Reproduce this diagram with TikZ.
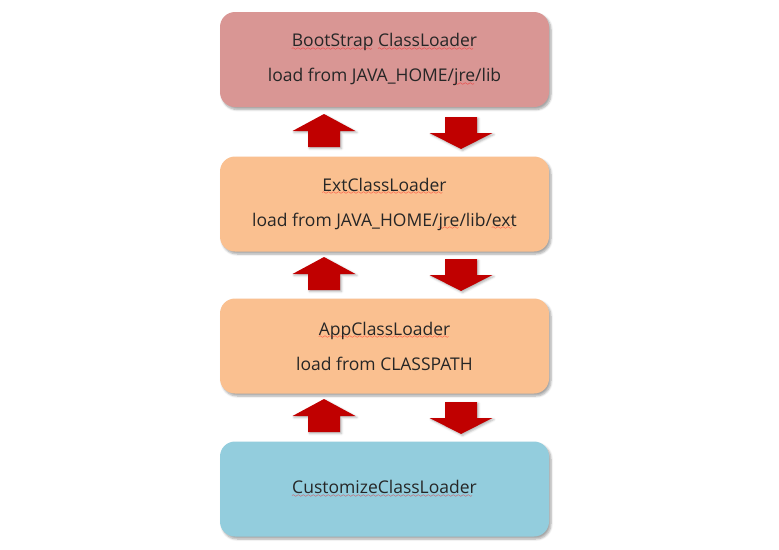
\documentclass[tikz,border=0pt]{standalone}
\usepackage{xcolor}
\usepackage{fontspec}
\setmainfont{Open Sans}
\usepackage{tikz}
\usetikzlibrary{shadows.blur}

\definecolor{bootred}{HTML}{D99694}
\definecolor{extorange}{HTML}{FAC090}
\definecolor{custblue}{HTML}{93CDDD}
\definecolor{arrowred}{HTML}{C00000}
\definecolor{textgray}{HTML}{262626}

% red wavy underline of the spell checker
\font\wavefont=lasy6 \relax
\newcommand\spellerr[1]{\setbox0\hbox{#1}%
  \rlap{\raisebox{-3.5pt}{\textcolor{red}{\hbox to\wd0{\leaders\hbox{\wavefont\char58}\hfill}}}}\box0}
\newcommand\boxfont{\fontsize{17.5}{35}\selectfont}

\begin{document}
\begin{tikzpicture}[x=1pt,y=-1pt,
  loaderbox/.style={rectangle,rounded corners=15pt,minimum width=329pt,minimum height=95pt,
    text=textgray,font=\boxfont,align=center,
    blur shadow={shadow xshift=2pt,shadow yshift=-2.5pt,shadow opacity=35,shadow blur steps=6}},
  blockarrow/.style={fill=arrowred,
    blur shadow={shadow xshift=1.5pt,shadow yshift=-1.5pt,shadow opacity=30,shadow blur steps=4}}]
  \useasboundingbox (0,0) rectangle (779,549);

  \node[loaderbox,fill=bootred] (boot) at (384.5,59.5)
    {\spellerr{BootStrap}\ \spellerr{ClassLoader}\\load from JAVA\_HOME/\spellerr{jre}/lib};
  \node[loaderbox,fill=extorange] (ext) at (384.5,204)
    {\spellerr{ExtClassLoader}\\load from JAVA\_HOME/\spellerr{jre}/lib/\spellerr{ext}};
  \node[loaderbox,fill=extorange] (app) at (384.5,346)
    {\spellerr{AppClassLoader}\\load from CLASSPATH};
  \node[loaderbox,fill=custblue] (custom) at (384.5,489)
    {\spellerr{CustomizeClassLoader}};

  % delegate up
  \foreach \top in {114,257,399}
    \draw[blockarrow,draw=none,shift={(324,\top)}] (0,0) -- (31.5,17) -- (16,17) -- (16,33)
      -- (-16,33) -- (-16,17) -- (-31.5,17) -- cycle;
  % load down
  \foreach \top in {117,259,402}
    \draw[blockarrow,draw=none,shift={(461,\top)}] (-16,0) -- (16,0) -- (16,16) -- (31.5,16)
      -- (0,32) -- (-31.5,16) -- (-16,16) -- cycle;
\end{tikzpicture}
\end{document}
